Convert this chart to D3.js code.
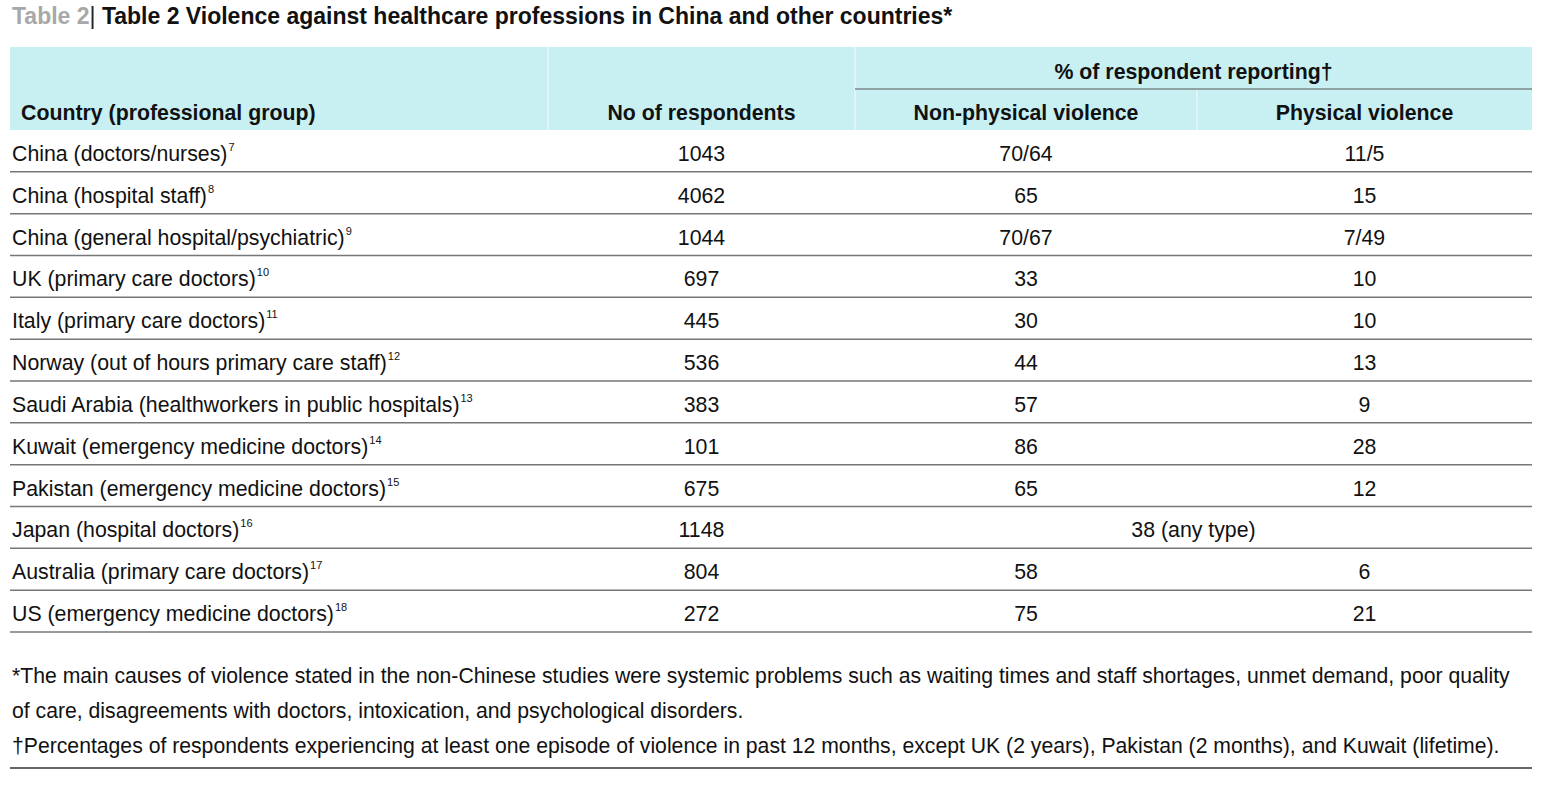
<!DOCTYPE html>
<html><head><meta charset="utf-8">
<script src="https://cdn.jsdelivr.net/npm/d3@7"></script>
<style>body{margin:0;background:#fff}</style>
</head><body>
<svg id="tbl" width="1564" height="796"></svg>
<script>
var groups = ["China (doctors/nurses)", "China (hospital staff)", "China (general hospital/psychiatric)",
    "UK (primary care doctors)", "Italy (primary care doctors)", "Norway (out of hours primary care staff)",
    "Saudi Arabia (healthworkers in public hospitals)", "Kuwait (emergency medicine doctors)",
    "Pakistan (emergency medicine doctors)", "Japan (hospital doctors)", "Australia (primary care doctors)",
    "US (emergency medicine doctors)"];
var refs = ["7", "8", "9", "10", "11", "12", "13", "14", "15", "16", "17", "18"];
var respondents = ["1043", "4062", "1044", "697", "445", "536", "383", "101", "675", "1148", "804", "272"];
var nonPhysical = ["70/64", "65", "70/67", "33", "30", "44", "57", "86", "65", "38 (any type)", "58", "75"];
var physical = ["11/5", "15", "7/49", "10", "10", "13", "9", "28", "12", null, "6", "21"];
var footnotes = [
    "*The main causes of violence stated in the non-Chinese studies were systemic problems such as waiting times and staff shortages, unmet demand, poor quality",
    "of care, disagreements with doctors, intoxication, and psychological disorders.",
    "\u2020Percentages of respondents experiencing at least one episode of violence in past 12 months, except UK (2 years), Pakistan (2 months), and Kuwait (lifetime)."
];

var font = "'Liberation Sans', Arial, Helvetica, sans-serif";
var svg = d3.select("#tbl").style("font-family", font);
var left = 10, right = 1532;
var colEdges = [left, 548, 855, 1197, right];
var mid = function(i) { return (colEdges[i] + colEdges[i + 1]) / 2; };

var y = d3.scaleBand().domain(d3.range(groups.length)).range([130, 632]);

// title
var t = svg.append("text").attr("x", 12).attr("y", 24).style("font-size", "23px").style("font-weight", "bold");
t.append("tspan").attr("fill", "#a8a8a8").text("Table 2");
t.append("tspan").attr("fill", "#222").style("font-weight", "normal").text("|");
t.append("tspan").attr("fill", "#111").text(" Table 2 Violence against healthcare professions in China and other countries*");

// header
svg.append("rect").attr("x", left).attr("y", 47).attr("width", right - left).attr("height", 83).attr("fill", "#c8f0f3");
[548, 855, 1197].forEach(function(x, i) {
    svg.append("line").attr("x1", x).attr("x2", x).attr("y1", i == 2 ? 89 : 47).attr("y2", 130)
        .attr("stroke", "#e4f8fa").attr("stroke-width", 1.5);
});
svg.append("line").attr("x1", 855).attr("x2", right).attr("y1", 89).attr("y2", 89).attr("stroke", "#555").attr("stroke-width", 1.2);
var hdr = svg.append("g").style("font-size", "21.3px").style("font-weight", "bold").attr("fill", "#111");
hdr.append("text").attr("x", 21).attr("y", 120).text("Country (professional group)");
hdr.append("text").attr("x", mid(1)).attr("y", 120).attr("text-anchor", "middle").text("No of respondents");
hdr.append("text").attr("x", mid(2)).attr("y", 120).attr("text-anchor", "middle").text("Non-physical violence");
hdr.append("text").attr("x", mid(3)).attr("y", 120).attr("text-anchor", "middle").text("Physical violence");
hdr.append("text").attr("x", (855 + right) / 2).attr("y", 79).attr("text-anchor", "middle").text("% of respondent reporting\u2020");

// rows
var rows = svg.selectAll(".row").data(groups).enter().append("g").attr("class", "row")
    .attr("transform", function(d, i) { return "translate(0," + y(i) + ")"; })
    .style("font-size", "21.3px").attr("fill", "#111");
var bh = y.bandwidth();
var ty = bh / 2 + 10;
rows.append("line").attr("x1", left).attr("x2", right).attr("y1", bh).attr("y2", bh)
    .attr("stroke", "#777").attr("stroke-width", 1.5);
var lab = rows.append("text").attr("x", 12).attr("y", ty);
lab.append("tspan").text(function(d) { return d; });
lab.append("tspan").attr("dx", 1).attr("dy", -10).style("font-size", "11px").text(function(d, i) { return refs[i]; });
rows.append("text").attr("x", mid(1)).attr("y", ty).attr("text-anchor", "middle")
    .text(function(d, i) { return respondents[i]; });
rows.append("text").attr("x", function(d, i) { return physical[i] == null ? (855 + right) / 2 : mid(2); })
    .attr("y", ty).attr("text-anchor", "middle").text(function(d, i) { return nonPhysical[i]; });
rows.append("text").attr("x", mid(3)).attr("y", ty).attr("text-anchor", "middle")
    .text(function(d, i) { return physical[i] == null ? "" : physical[i]; });

// footnotes
svg.selectAll(".fn").data(footnotes).enter().append("text").attr("class", "fn")
    .attr("x", 12).attr("y", function(d, i) { return 683 + i * 35; })
    .style("font-size", "21.2px").attr("fill", "#111").text(function(d) { return d; });
svg.append("line").attr("x1", left).attr("x2", right).attr("y1", 768).attr("y2", 768).attr("stroke", "#333").attr("stroke-width", 1.5);
</script>
</body></html>
